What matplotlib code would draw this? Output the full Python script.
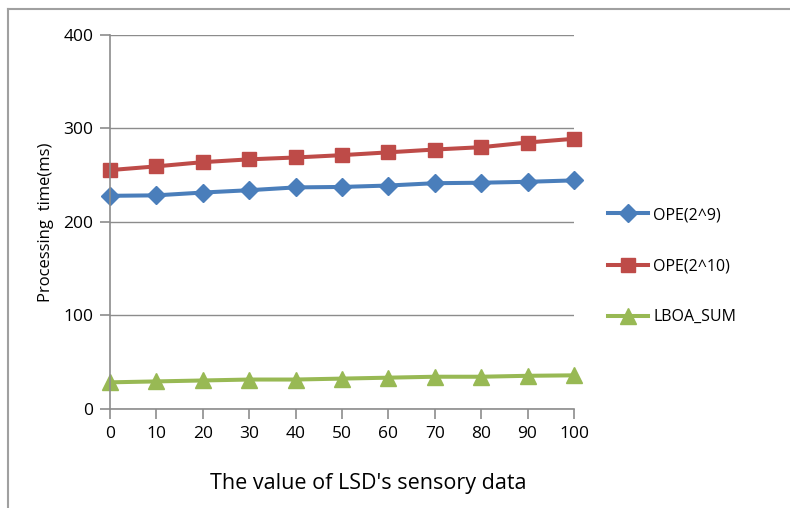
import matplotlib.pyplot as plt
from matplotlib.lines import Line2D

plt.rcParams['font.family'] = ['Open Sans', 'DejaVu Sans']

# data
x_vals = [0, 10, 20, 30, 40, 50, 60, 70, 80, 90, 100]
ope_2_9 = [228, 228.5, 231.5, 234, 237, 237.5, 239, 241.5, 242, 243, 244.5]
ope_2_10 = [255.5, 259.5, 264, 267, 269, 271.5, 274.5, 277.5, 280, 285, 289]
lboa_sum = [28.5, 29.5, 30.5, 31.5, 31.5, 32.5, 33.5, 34.5, 34.5, 35.5, 36]
y_ticks = [0, 100, 200, 300, 400]

fig = plt.figure(figsize=(7.9, 5.08), dpi=100)
ax = fig.add_axes([0.1392, 0.1949, 0.5873, 0.7362])

ax.plot(x_vals, ope_2_9, color='#4A7EBB', lw=2.9, marker='D', ms=9.5, label='OPE(2^9)')
ax.plot(x_vals, ope_2_10, color='#BE4B48', lw=2.9, marker='s', ms=10.5, label='OPE(2^10)')
ax.plot(x_vals, lboa_sum, color='#98B954', lw=2.9, marker='^', ms=11, label='LBOA_SUM')

ax.set_xlim(0, 100)
ax.set_ylim(0, 400)
ax.set_xticks(x_vals)
ax.set_yticks(y_ticks)
ax.margins(0)
for p in ax.get_lines():
    p.set_clip_on(False)

ax.grid(axis='y', color='#8C8C8C', lw=1)
ax.set_axisbelow(True)
for s in ['top', 'right']:
    ax.spines[s].set_visible(False)
for s in ['left', 'bottom']:
    ax.spines[s].set_color('#8C8C8C')
    ax.spines[s].set_linewidth(1.2)
ax.tick_params(axis='both', colors='#8C8C8C', length=7, width=1.2, labelsize=12.5,
               labelcolor='black')
ax.tick_params(axis='x', pad=5)
ax.tick_params(axis='y', pad=5)

ax.set_ylabel('Processing  time(ms)', fontsize=12, labelpad=7)
ax.set_xlabel("The value of LSD's sensory data", fontsize=15.5, va='center')
ax.xaxis.set_label_coords(0.556, -0.198)

fig.legend(loc='center left', bbox_to_anchor=(0.762, 0.476), frameon=False,
           fontsize=11.5, labelspacing=2.2, handlelength=2.5, handletextpad=0.3,
           borderaxespad=0)

# thin frame along top and left edge
fig.add_artist(Line2D([8 / 790, 1], [1 - 9 / 508, 1 - 9 / 508], color='#A0A0A0', lw=1.5,
                      transform=fig.transFigure))
fig.add_artist(Line2D([8 / 790, 8 / 790], [0, 1 - 9 / 508], color='#A0A0A0', lw=1.5,
                      transform=fig.transFigure))

fig.savefig('out.png', dpi=100)
